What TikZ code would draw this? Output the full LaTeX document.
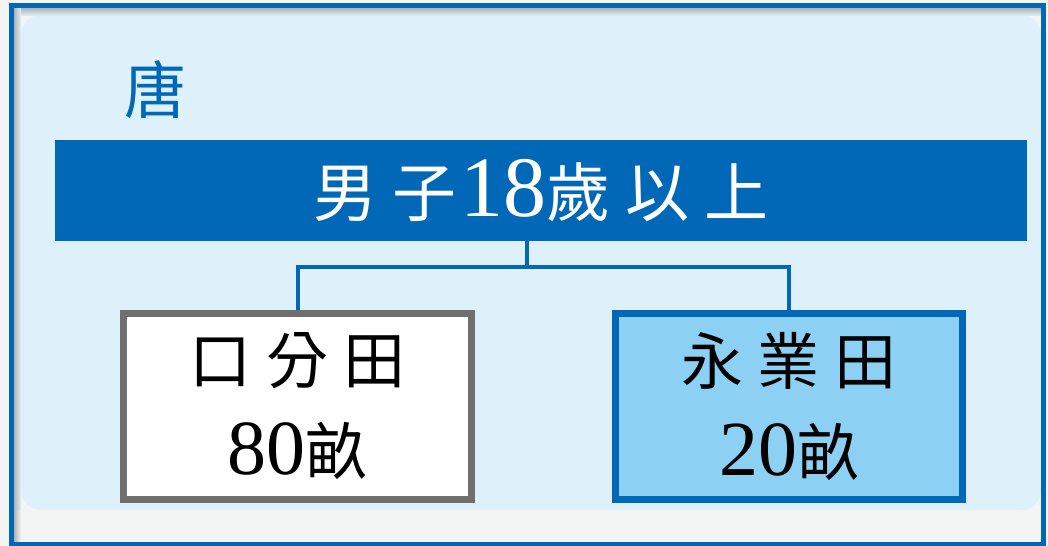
\documentclass[tikz,border=0pt]{standalone}
\usepackage{fontspec}
\setmainfont{Liberation Serif}
\newfontfamily\cjk{Noto Sans CJK TC}
\definecolor{darkblue}{HTML}{0068B7}
\definecolor{paleblue}{HTML}{DEF0FA}
\definecolor{skyblue}{HTML}{8CD1F3}
\definecolor{boxgray}{HTML}{6F6F6F}
\definecolor{offwhite}{HTML}{F3F5F4}

\begin{document}
\begin{tikzpicture}[x=1bp,y=-1bp]
        \tikzset{
            field/.style={draw, line width=7bp, minimum width=347bp, minimum height=186bp,
                align=center, inner sep=0pt, font=\fontsize{62bp}{91bp}\selectfont},
            link/.style={darkblue, line width=4bp},
        }
        \useasboundingbox (0,0) rectangle (1048,546);
        % frame and panel
        \fill[offwhite] (0,0) rectangle (1048,546);
        \fill[paleblue, rounded corners=20bp] (21,15) rectangle (1041,510);
        \shade[top color=black!30, bottom color=paleblue] (14,8) rectangle (1041,16);
        \shade[left color=black!30, right color=paleblue] (14,8) rectangle (21,510);
        \shade[left color=black!30, right color=offwhite] (14,510) rectangle (21,544);
        \draw[darkblue, line width=5bp] (11.5,5.5) rectangle (1043,544);
        \node[text=darkblue, font=\cjk\fontsize{62bp}{62bp}\selectfont] (tang) at (155,90) {唐};
        \node[fill=darkblue, text=white, minimum width=972bp, minimum height=101bp, inner sep=0pt] (title) at (541,190.5)
            {{\cjk\fontsize{64bp}{64bp}\selectfont 男\hspace{15bp}子}\hspace{4bp}{\fontsize{86bp}{86bp}\selectfont 18}{\cjk\fontsize{64bp}{64bp}\selectfont 歲\hspace{15bp}以\hspace{15bp}上}};
        \node[field, draw=boxgray, fill=white] (kou) at (297.5,406.5)
            {{\cjk 口\hspace{15bp}分\hspace{15bp}田}\\{\fontsize{78bp}{91bp}\selectfont 80}{\cjk 畝}};
        \node[field, draw=darkblue, fill=skyblue] (yong) at (789,406.5)
            {{\cjk 永\hspace{15bp}業\hspace{15bp}田}\\{\fontsize{78bp}{91bp}\selectfont 20}{\cjk 畝}};
        \coordinate (split) at (527,267.5);
        \draw[link] (split |- title.south) -- (split);
        \draw[link] (split) -| (kou.north);
        \draw[link] (split) -| (yong.north);
    \end{tikzpicture}
\end{document}
